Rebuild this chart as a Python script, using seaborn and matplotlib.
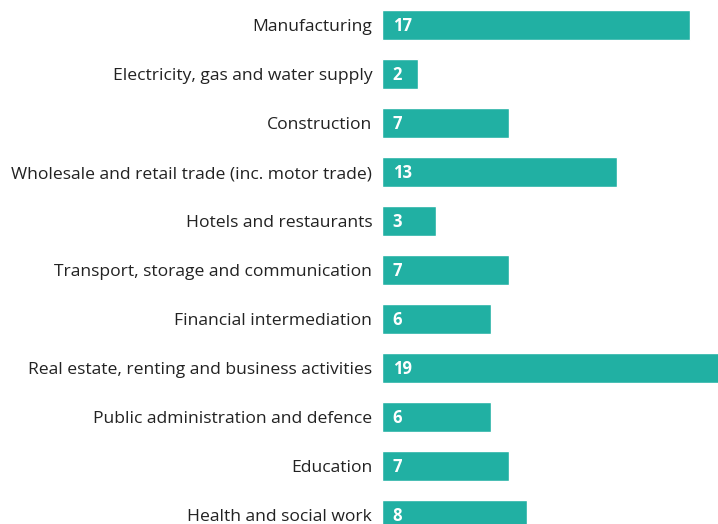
import matplotlib
matplotlib.use("Agg")
import matplotlib.pyplot as plt
import seaborn as sns
import pandas as pd

categories = [
    "Manufacturing",
    "Electricity, gas and water supply",
    "Construction",
    "Wholesale and retail trade (inc. motor trade)",
    "Hotels and restaurants",
    "Transport, storage and communication",
    "Financial intermediation",
    "Real estate, renting and business activities",
    "Public administration and defence",
    "Education",
    "Health and social work",
]
values = [17, 2, 7, 13, 3, 7, 6, 19, 6, 7, 8]

df = pd.DataFrame({"sector": categories, "value": values})

sns.set_theme(style="white")
plt.rcParams["font.family"] = ["Open Sans", "DejaVu Sans"]

fig = plt.figure(figsize=(7.18, 5.24), dpi=100)
ax = fig.add_axes([382 / 718, 0, 336 / 718, 1])

color = "#21B0A3"
sns.barplot(data=df, y="sector", x="value", orient="h", color=color,
            width=0.61, saturation=1, ax=ax)

ax.set_xlim(0, 18.55)
ax.set_ylim(10.18, -0.51)
for s in ax.spines.values():
    s.set_visible(False)
ax.set_xlabel("")
ax.set_ylabel("")
ax.set_xticks([])
ax.tick_params(axis="y", length=0, pad=7, labelsize=12.6, labelcolor="#222222")
for lbl in ax.get_yticklabels():
    lbl.set_va("center_baseline")

for i, v in enumerate(values):
    ax.text(0.6, i + 0.02, str(v), color="white", fontweight="bold",
            fontsize=12, va="center", ha="left")

fig.savefig("out.png", dpi=100)
